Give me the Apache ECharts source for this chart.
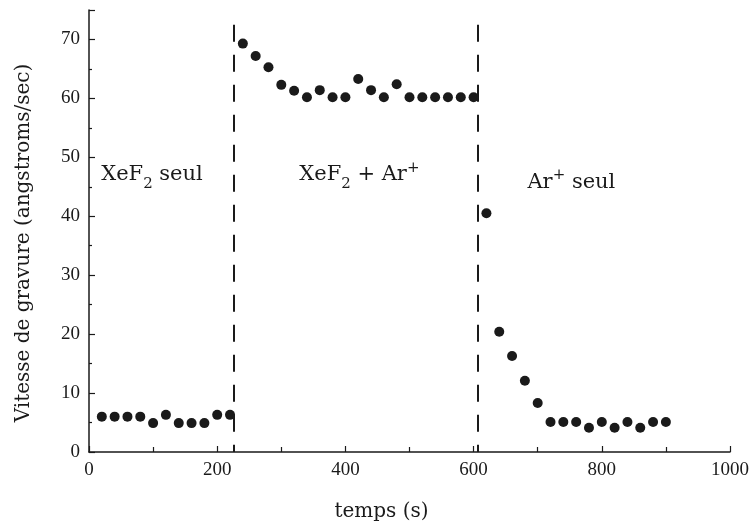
<!DOCTYPE html>
<html>
<head>
<meta charset="utf-8">
<script src="https://cdn.jsdelivr.net/npm/echarts@6/dist/echarts.min.js"></script>
<style>
  html, body { margin: 0; padding: 0; background: #fff; }
  #chart { width: 754px; height: 525px; }
</style>
</head>
<body>
<div id="chart"></div>
<script>
// temps (s) / vitesse (angstroms/sec)
var tempsXeF2 = [20, 40, 60, 80, 100, 120, 140, 160, 180, 200, 220];
var vitesseXeF2 = [6.0, 6.0, 6.0, 6.0, 4.9, 6.3, 4.9, 4.9, 4.9, 6.3, 6.3];

var tempsMixte = [240, 260, 280, 300, 320, 340, 360, 380, 400, 420, 440, 460, 480, 500, 520, 540, 560, 580, 600];
var vitesseMixte = [69.3, 67.2, 65.3, 62.3, 61.3, 60.2, 61.4, 60.2, 60.2, 63.3, 61.4, 60.2, 62.4, 60.2, 60.2, 60.2, 60.2, 60.2, 60.2];

var tempsAr = [620, 640, 660, 680, 700, 720, 740, 760, 780, 800, 820, 840, 860, 880, 900];
var vitesseAr = [40.5, 20.4, 16.3, 12.1, 8.3, 5.1, 5.1, 5.1, 4.1, 5.1, 4.1, 5.1, 4.1, 5.1, 5.1];

// changements de regime (s)
var limites = [226, 607];

var xTicks = [0, 200, 400, 600, 800, 1000];
var yTicks = [0, 10, 20, 30, 40, 50, 60, 70];

function paires(xs, ys) {
  return xs.map(function (x, i) { return [x, ys[i]]; });
}

var police = 'DejaVu Serif';
var chiffres = 'Liberation Serif';
var encre = '#1a1a1a';

var chart = echarts.init(document.getElementById('chart'));

var pointStyle = {
  type: 'scatter',
  symbol: 'circle',
  symbolSize: 10,
  itemStyle: { color: encre, opacity: 1 },
  silent: true
};

var richTexte = {
  n: { fontFamily: police, fontSize: 21, color: encre },
  sub: { fontFamily: police, fontSize: 15, color: encre, padding: [18, 0, 0, 0] },
  sup: { fontFamily: police, fontSize: 15, color: encre, padding: [0, 0, 14, 0] }
};

var option = {
  backgroundColor: '#fff',
  animation: false,
  grid: {
    left: 89,
    right: 24,
    top: 10,
    bottom: 73,
    outerBoundsMode: 'none'
  },
  xAxis: {
    type: 'value',
    min: xTicks[0],
    max: xTicks[xTicks.length - 1],
    interval: 200,
    name: 'temps (s)',
    nameLocation: 'middle',
    nameGap: 50,
    nameTextStyle: { fontFamily: police, fontSize: 20, color: encre, padding: [0, 56, 0, 0] },
    axisLine: { lineStyle: { color: encre, width: 1.5 } },
    axisTick: { inside: true, length: 6, lineStyle: { color: encre, width: 1.2 } },
    minorTick: { show: true, splitNumber: 2, length: 5, lineStyle: { color: encre, width: 1.2 } },
    axisLabel: {
      fontFamily: chiffres, fontSize: 19, color: encre, margin: 9,
      formatter: function (v) { return String(v); }
    },
    splitLine: { show: false }
  },
  yAxis: {
    type: 'value',
    min: yTicks[0],
    max: 75,
    interval: 10,
    name: 'Vitesse de gravure (angstroms/sec)',
    nameLocation: 'middle',
    nameGap: 55,
    nameTextStyle: { fontFamily: police, fontSize: 20, color: encre, padding: [0, 24, 0, 0] },
    axisLine: { show: true, lineStyle: { color: encre, width: 1.5 } },
    axisTick: { inside: true, length: 6, lineStyle: { color: encre, width: 1.2 } },
    minorTick: { show: true, splitNumber: 2, length: 3, lineStyle: { color: encre, width: 1.2 } },
    axisLabel: { fontFamily: chiffres, fontSize: 19, color: encre, margin: 9, showMaxLabel: false },
    splitLine: { show: false }
  },
  series: [
    Object.assign({}, pointStyle, {
      name: 'XeF2 seul',
      data: paires(tempsXeF2, vitesseXeF2),
      markLine: {
        silent: true,
        symbol: 'none',
        label: { show: false },
        lineStyle: { color: encre, width: 2, type: [17, 13] },
        data: limites.map(function (t) {
          return [{ coord: [t, 72.5] }, { coord: [t, 0] }];
        })
      },
      markPoint: {
        silent: true,
        symbol: 'circle',
        symbolSize: 0,
        label: { show: true, position: 'right', distance: 0, rich: richTexte },
        data: [
          { coord: [19, 47], label: { formatter: '{n|XeF}{sub|2}{n| seul}' } },
          { coord: [328, 47], label: { formatter: '{n|XeF}{sub|2}{n| + Ar}{sup|+}' } },
          { coord: [684, 45.8], label: { formatter: '{n|Ar}{sup|+}{n| seul}' } }
        ]
      }
    }),
    Object.assign({}, pointStyle, {
      name: 'XeF2 + Ar+',
      data: paires(tempsMixte, vitesseMixte)
    }),
    Object.assign({}, pointStyle, {
      name: 'Ar+ seul',
      data: paires(tempsAr, vitesseAr)
    })
  ]
};

chart.setOption(option);
</script>
</body>
</html>
